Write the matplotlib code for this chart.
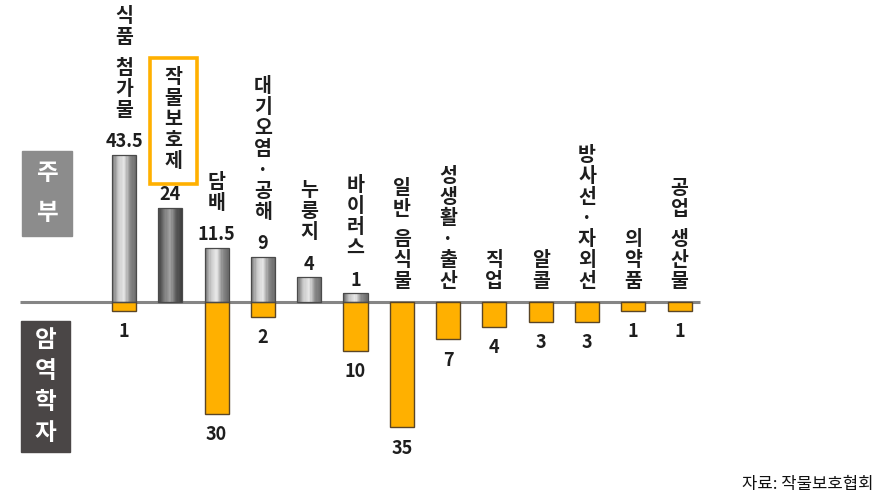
import numpy as np
import matplotlib
matplotlib.use("Agg")
from matplotlib import pyplot as plt
from matplotlib.colors import LinearSegmentedColormap
from matplotlib.patches import Rectangle
from matplotlib.transforms import IdentityTransform

plt.rcParams['font.family'] = ['Noto Sans CJK KR', 'DejaVu Sans']

# data
categories = ['식품 첨가물', '작물보호제', '담배', '대기오염·공해', '누룽지', '바이러스',
              '일반 음식물', '성생활·출산', '직업', '알콜', '방사선·자외선', '의약품',
              '공업 생산물']
housewives = [43.5, 24, 11.5, 9, 4, 1, 0, 0, 0, 0, 0, 0, 0]
epidemiologists = [1, 0, 30, 2, 0, 10, 35, 7, 4, 3, 3, 1, 1]
highlight = '작물보호제'
group_labels = ['주부', '암역학자']
source_note = '자료: 작물보호협회'

W, H, DPI = 884, 496, 100
PX = 72 / DPI          # points per pixel
TEXT = '#1e1e1e'
ORANGE = '#FFB000'

# the original bars are not drawn to a linear scale; a signed power fits them
P = 0.75


def fwd(v):
    v = np.asarray(v, dtype=float)
    return np.sign(v) * np.abs(v) ** P


def inv(v):
    v = np.asarray(v, dtype=float)
    return np.sign(v) * np.abs(v) ** (1 / P)


gray_cmap = LinearSegmentedColormap.from_list('cyl', ['#6c6c6c', '#c8c8c8', '#e8e8e8', '#8a8a8a', '#6a6a6a'])
dark_cmap = LinearSegmentedColormap.from_list('cyl_dark', ['#3e3e3e', '#7a7a7a', '#a4a4a4', '#5a5a5a', '#3c3c3c'])


def gradient_bar(ax, x, h, width, cmap, n=20):
    """Fake a cylinder look by stacking thin slices of one bar"""
    edges = np.linspace(x - width / 2, x + width / 2, n + 1)
    for k in range(n):
        ax.bar((edges[k] + edges[k + 1]) / 2, h, width=width / n * 1.08,
               color=cmap((k + 0.5) / n), linewidth=0, zorder=3)
    ax.bar(x, h, width=width, fill=False, edgecolor='#4a4a4a', linewidth=0.9, zorder=4)


def stack_label(ax, x, y, text, base_px, step_px=21, size=14):
    """Write text top-to-bottom, one character per row, bottom row base_px above (x, y)"""
    pos = base_px
    rows = []
    for ch in reversed(text):
        if ch == ' ':
            pos += step_px * 0.45
            continue
        rows.append((ch, pos + step_px / 2))
        pos += step_px
    for ch, c in rows:
        ax.annotate(ch, (x, y), xytext=(0, c * PX), textcoords='offset points',
                    ha='center', va='center', fontsize=size, fontweight='bold',
                    color=TEXT, zorder=6)
    return pos


fig = plt.figure(figsize=(W / DPI, H / DPI), dpi=DPI)
ax = fig.add_axes([0, 0, 1, 1])
ax.set_yscale('function', functions=(fwd, inv))
ax.axis('off')

# first bar sits at x = 124 px, bars 46.3 px apart, baseline 302 px from the top
spacing, x0, base_y, unit = 46.3, 124, 302, 8.7
ax.set_xlim(-x0 / spacing, (W - x0) / spacing)
ax.set_ylim(inv(-(H - base_y) / unit), inv(base_y / unit))

xs = np.arange(len(categories))
bw = 24 / spacing

ax.plot([-104 / spacing, 576 / spacing], [0, 0], color='#858585', lw=2.2, zorder=2,
        solid_capstyle='butt')

for x, cat, h, e in zip(xs, categories, housewives, epidemiologists):
    if h > 0:
        cmap = dark_cmap if cat == highlight else gray_cmap
        gradient_bar(ax, x, h, bw, cmap)
        ax.annotate(f'{h:g}', (x, h), xytext=(0, 13 * PX), textcoords='offset points',
                    ha='center', va='center', fontsize=13, fontweight='bold',
                    color=TEXT, zorder=6)
    if e > 0:
        ax.bar(x, -e, width=bw, color=ORANGE, edgecolor='#5a4526', linewidth=1, zorder=3)
        ax.annotate(f'{e:g}', (x, -e), xytext=(0, -21 * PX), textcoords='offset points',
                    ha='center', va='center', fontsize=13, fontweight='bold',
                    color=TEXT, zorder=6)

    if cat == highlight:
        bottom = 36
        top = stack_label(ax, x + 3 / spacing, h, cat, bottom)
        px, py = ax.transData.transform((x + 3 / spacing, h))
        ax.add_artist(Rectangle((px - 23.5, py + bottom - 12), 47, top - bottom + 21,
                                transform=IdentityTransform(), fill=False,
                                edgecolor=ORANGE, linewidth=2.6, clip_on=False, zorder=5))
    elif h > 0:
        stack_label(ax, x, h, cat, 34)
    else:
        stack_label(ax, x, 0, cat, 10)

# group tags on the left
tags = [(group_labels[0], '#8c8c8c', 22, 151, 50, 85, 40),
        (group_labels[1], '#4a4646', 21, 321, 49, 131, 31)]
for text, color, left, top, w, h, step in tags:
    fig.patches.append(Rectangle((left / W, 1 - (top + h) / H), w / W, h / H,
                                 transform=fig.transFigure, color=color, zorder=1))
    n = len(text)
    mid = top + h / 2
    for k, ch in enumerate(text):
        cy = mid + (k - (n - 1) / 2) * step
        fig.text((left + w / 2) / W, 1 - cy / H, ch, ha='center', va='center',
                 fontsize=17, fontweight='bold', color='white')

fig.text(873 / W, 1 - 485 / H, source_note, ha='right', va='center',
         fontsize=12, color='#111111')

fig.savefig('out.png', dpi=DPI)
